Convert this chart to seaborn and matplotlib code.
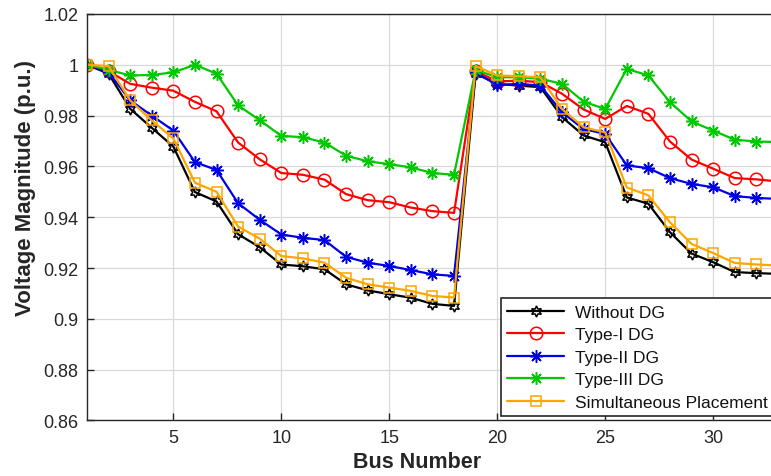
import numpy as np
import pandas as pd
import matplotlib
matplotlib.use("Agg")
import matplotlib.pyplot as plt
import seaborn as sns
from matplotlib.ticker import FuncFormatter

bus = list(range(1, 34))

without_dg = [1.0000, 0.9965, 0.9827, 0.9752, 0.9678, 0.9499, 0.9462, 0.9333, 0.9282,
              0.9214, 0.9207, 0.9195, 0.9136, 0.9112, 0.9097, 0.9083, 0.9059, 0.9051,
              0.9965, 0.9925, 0.9918, 0.9912, 0.9794, 0.9722, 0.9695, 0.9478, 0.9453,
              0.9341, 0.9257, 0.9223, 0.9184, 0.9180, 0.9177]
type1_dg = [1.0000, 0.9975, 0.9925, 0.9910, 0.9898, 0.9854, 0.9817, 0.9694, 0.9628,
            0.9574, 0.9567, 0.9548, 0.9491, 0.9467, 0.9459, 0.9438, 0.9424, 0.9417,
            0.9975, 0.9935, 0.9937, 0.9932, 0.9886, 0.9824, 0.9787, 0.9838, 0.9807,
            0.9698, 0.9627, 0.9591, 0.9554, 0.9549, 0.9541]
type2_dg = [1.0000, 0.9970, 0.9860, 0.9800, 0.9741, 0.9617, 0.9586, 0.9455, 0.9390,
            0.9332, 0.9319, 0.9310, 0.9244, 0.9221, 0.9208, 0.9192, 0.9175, 0.9169,
            0.9970, 0.9920, 0.9925, 0.9918, 0.9813, 0.9747, 0.9728, 0.9604, 0.9593,
            0.9554, 0.9531, 0.9518, 0.9483, 0.9476, 0.9472]
type3_dg = [1.0000, 0.9980, 0.9958, 0.9960, 0.9970, 1.0000, 0.9965, 0.9840, 0.9782,
            0.9720, 0.9715, 0.9694, 0.9642, 0.9620, 0.9609, 0.9596, 0.9574, 0.9567,
            0.9980, 0.9951, 0.9951, 0.9945, 0.9925, 0.9855, 0.9826, 0.9984, 0.9958,
            0.9853, 0.9777, 0.9741, 0.9705, 0.9698, 0.9696]
simultaneous = [1.0000, 0.9995, 0.9860, 0.9781, 0.9710, 0.9536, 0.9500, 0.9363, 0.9316,
                0.9247, 0.9238, 0.9221, 0.9162, 0.9136, 0.9123, 0.9110, 0.9090, 0.9084,
                0.9995, 0.9958, 0.9955, 0.9951, 0.9826, 0.9754, 0.9734, 0.9517, 0.9486,
                0.9380, 0.9295, 0.9259, 0.9220, 0.9214, 0.9210]

series_names = ["Without DG", "Type-I DG", "Type-II DG", "Type-III DG", "Simultaneous Placement"]
series_values = [without_dg, type1_dg, type2_dg, type3_dg, simultaneous]
colors = ["#000000", "#FF0000", "#0000E6", "#00C800", "#FFA500"]
markers = [(6, 1, 0), "o", (8, 2, 0), (8, 2, 0), "s"]
msizes = [8, 9, 9, 9, 7.5]

sns.set_theme(style="white")
plt.rcParams["font.family"] = ["Liberation Sans", "DejaVu Sans"]

fig = plt.figure(figsize=(7.71, 4.77), dpi=100)
ax = fig.add_axes([0.1128, 0.1164, 0.8962, 0.8522])

for name, vals, c, m, ms in zip(series_names, series_values, colors, markers, msizes):
    df = pd.DataFrame({"Bus": bus, "V": vals})
    sns.lineplot(data=df, x="Bus", y="V", ax=ax, color=c, marker=m, markersize=ms,
                 markerfacecolor="none", markeredgecolor=c, markeredgewidth=1.1,
                 linewidth=1.6, label=name)

ax.set_xlim(1, 33)
ax.set_ylim(0.86, 1.02)
ax.set_xticks([5, 10, 15, 20, 25, 30])
ax.set_yticks(np.arange(0.86, 1.0201, 0.02))
ax.yaxis.set_major_formatter(FuncFormatter(lambda v, p: ("%.2f" % v).rstrip("0").rstrip(".")))
ax.grid(True, color="#d8d8d8", linewidth=0.9)
ax.set_axisbelow(True)
for s in ax.spines.values():
    s.set_color("#262626")
    s.set_linewidth(1.0)
    s.set_visible(True)
ax.tick_params(direction="in", length=5, width=1, colors="#262626",
               labelsize=13, labelcolor="#262626", top=False, right=False,
               bottom=True, left=True, pad=6)
ax.set_xlabel("Bus Number", fontsize=15.5, fontweight="bold")
ax.xaxis.set_label_coords(0.4776, -0.076)
ax.set_ylabel("Voltage Magnitude (p.u.)", fontsize=16, fontweight="bold")
ax.yaxis.set_label_coords(-0.074, 0.575)

leg = ax.legend(loc="lower right", fontsize=12.5, frameon=True, fancybox=False,
                framealpha=1, edgecolor="#262626", handlelength=3.3, handletextpad=0.6,
                borderpad=0.35, labelspacing=0.43, borderaxespad=0.25)
leg.get_frame().set_linewidth(1.2)
for t in leg.get_texts():
    t.set_color("#111111")

fig.savefig("out.png", dpi=100)
